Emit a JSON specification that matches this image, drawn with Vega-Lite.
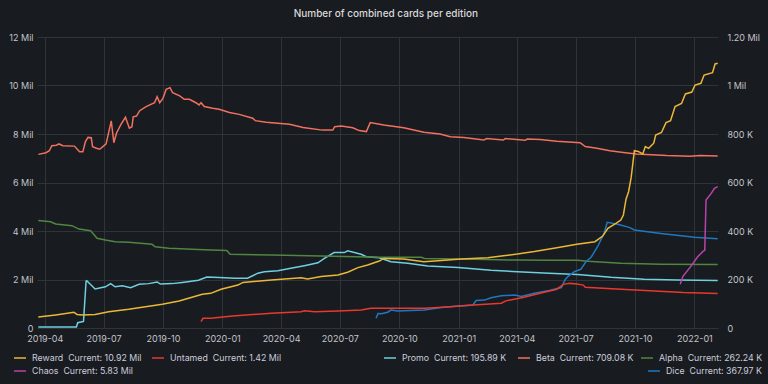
{
  "$schema": "https://vega.github.io/schema/vega-lite/v6.json",
  "width": 681,
  "height": 291,
  "autosize": "none",
  "padding": {"left": 37, "top": 37, "right": 50, "bottom": 56},
  "background": "#181b1f",
  "config": {
    "font": "Inter",
    "view": {"stroke": null},
    "line": {"strokeWidth": 1.5},
    "axis": {"labelFont": "Inter", "labelFontSize": 9, "labelColor": "#c4c4cc", "gridColor": "#303338", "gridWidth": 1, "domain": false, "ticks": false, "title": null},
    "legend": {"labelFont": "Inter", "labelFontSize": 8.8, "labelColor": "#ccccdc", "title": null, "symbolType": "stroke", "symbolStrokeWidth": 4, "symbolSize": 144, "labelOffset": 5, "orient": "none"}
  },
  "title": {"text": "Number of combined cards per edition", "anchor": "middle", "frame": "bounds", "fontSize": 10, "fontWeight": 500, "color": "#d8d9da", "font": "Inter", "offset": 14},
  "datasets": {
    "left": [
      {"d": "2019-03-22", "s": "Reward", "v": 450000},
      {"d": "2019-04-18", "s": "Reward", "v": 540000},
      {"d": "2019-05-16", "s": "Reward", "v": 650000},
      {"d": "2019-05-21", "s": "Reward", "v": 560000},
      {"d": "2019-05-29", "s": "Reward", "v": 540000},
      {"d": "2019-06-18", "s": "Reward", "v": 560000},
      {"d": "2019-07-09", "s": "Reward", "v": 670000},
      {"d": "2019-08-09", "s": "Reward", "v": 770000},
      {"d": "2019-09-04", "s": "Reward", "v": 880000},
      {"d": "2019-09-30", "s": "Reward", "v": 980000},
      {"d": "2019-10-26", "s": "Reward", "v": 1110000},
      {"d": "2019-11-15", "s": "Reward", "v": 1270000},
      {"d": "2019-12-01", "s": "Reward", "v": 1390000},
      {"d": "2019-12-14", "s": "Reward", "v": 1430000},
      {"d": "2019-12-30", "s": "Reward", "v": 1600000},
      {"d": "2020-01-25", "s": "Reward", "v": 1770000},
      {"d": "2020-02-02", "s": "Reward", "v": 1880000},
      {"d": "2020-03-17", "s": "Reward", "v": 1980000},
      {"d": "2020-05-02", "s": "Reward", "v": 2070000},
      {"d": "2020-05-12", "s": "Reward", "v": 2020000},
      {"d": "2020-06-02", "s": "Reward", "v": 2120000},
      {"d": "2020-06-28", "s": "Reward", "v": 2190000},
      {"d": "2020-07-13", "s": "Reward", "v": 2300000},
      {"d": "2020-07-29", "s": "Reward", "v": 2490000},
      {"d": "2020-08-13", "s": "Reward", "v": 2600000},
      {"d": "2020-08-31", "s": "Reward", "v": 2760000},
      {"d": "2020-09-07", "s": "Reward", "v": 2870000},
      {"d": "2020-10-08", "s": "Reward", "v": 2850000},
      {"d": "2020-11-08", "s": "Reward", "v": 2730000},
      {"d": "2020-12-05", "s": "Reward", "v": 2780000},
      {"d": "2021-01-05", "s": "Reward", "v": 2850000},
      {"d": "2021-02-15", "s": "Reward", "v": 2900000},
      {"d": "2021-03-08", "s": "Reward", "v": 2970000},
      {"d": "2021-04-02", "s": "Reward", "v": 3050000},
      {"d": "2021-04-28", "s": "Reward", "v": 3150000},
      {"d": "2021-06-02", "s": "Reward", "v": 3310000},
      {"d": "2021-07-03", "s": "Reward", "v": 3450000},
      {"d": "2021-07-31", "s": "Reward", "v": 3560000},
      {"d": "2021-08-12", "s": "Reward", "v": 3790000},
      {"d": "2021-08-20", "s": "Reward", "v": 4110000},
      {"d": "2021-09-02", "s": "Reward", "v": 4320000},
      {"d": "2021-09-09", "s": "Reward", "v": 4450000},
      {"d": "2021-09-13", "s": "Reward", "v": 4660000},
      {"d": "2021-09-17", "s": "Reward", "v": 5300000},
      {"d": "2021-09-21", "s": "Reward", "v": 5620000},
      {"d": "2021-09-25", "s": "Reward", "v": 6200000},
      {"d": "2021-09-30", "s": "Reward", "v": 7310000},
      {"d": "2021-10-06", "s": "Reward", "v": 7280000},
      {"d": "2021-10-13", "s": "Reward", "v": 7180000},
      {"d": "2021-10-17", "s": "Reward", "v": 7480000},
      {"d": "2021-10-22", "s": "Reward", "v": 7410000},
      {"d": "2021-10-30", "s": "Reward", "v": 7620000},
      {"d": "2021-11-02", "s": "Reward", "v": 7960000},
      {"d": "2021-11-11", "s": "Reward", "v": 8060000},
      {"d": "2021-11-18", "s": "Reward", "v": 8470000},
      {"d": "2021-11-25", "s": "Reward", "v": 8550000},
      {"d": "2021-12-02", "s": "Reward", "v": 9130000},
      {"d": "2021-12-12", "s": "Reward", "v": 9260000},
      {"d": "2021-12-18", "s": "Reward", "v": 9650000},
      {"d": "2021-12-28", "s": "Reward", "v": 9730000},
      {"d": "2022-01-02", "s": "Reward", "v": 10020000},
      {"d": "2022-01-11", "s": "Reward", "v": 10090000},
      {"d": "2022-01-16", "s": "Reward", "v": 10430000},
      {"d": "2022-01-29", "s": "Reward", "v": 10530000},
      {"d": "2022-02-02", "s": "Reward", "v": 10890000},
      {"d": "2022-02-06", "s": "Reward", "v": 10920000},
      {"d": "2019-11-29", "s": "Untamed", "v": 260000},
      {"d": "2019-12-02", "s": "Untamed", "v": 400000},
      {"d": "2019-12-14", "s": "Untamed", "v": 400000},
      {"d": "2020-01-17", "s": "Untamed", "v": 490000},
      {"d": "2020-03-17", "s": "Untamed", "v": 610000},
      {"d": "2020-05-02", "s": "Untamed", "v": 670000},
      {"d": "2020-05-07", "s": "Untamed", "v": 710000},
      {"d": "2020-05-23", "s": "Untamed", "v": 670000},
      {"d": "2020-06-28", "s": "Untamed", "v": 700000},
      {"d": "2020-08-03", "s": "Untamed", "v": 740000},
      {"d": "2020-08-18", "s": "Untamed", "v": 810000},
      {"d": "2020-09-07", "s": "Untamed", "v": 810000},
      {"d": "2020-11-09", "s": "Untamed", "v": 810000},
      {"d": "2020-12-19", "s": "Untamed", "v": 880000},
      {"d": "2021-01-24", "s": "Untamed", "v": 950000},
      {"d": "2021-03-08", "s": "Untamed", "v": 1020000},
      {"d": "2021-03-15", "s": "Untamed", "v": 1120000},
      {"d": "2021-04-12", "s": "Untamed", "v": 1270000},
      {"d": "2021-05-07", "s": "Untamed", "v": 1430000},
      {"d": "2021-06-02", "s": "Untamed", "v": 1600000},
      {"d": "2021-06-12", "s": "Untamed", "v": 1800000},
      {"d": "2021-06-22", "s": "Untamed", "v": 1840000},
      {"d": "2021-07-03", "s": "Untamed", "v": 1810000},
      {"d": "2021-07-13", "s": "Untamed", "v": 1770000},
      {"d": "2021-07-16", "s": "Untamed", "v": 1680000},
      {"d": "2021-09-02", "s": "Untamed", "v": 1610000},
      {"d": "2021-10-24", "s": "Untamed", "v": 1540000},
      {"d": "2021-12-15", "s": "Untamed", "v": 1460000},
      {"d": "2022-02-06", "s": "Untamed", "v": 1420000},
      {"d": "2021-12-10", "s": "Chaos", "v": 1800000},
      {"d": "2021-12-14", "s": "Chaos", "v": 2120000},
      {"d": "2021-12-27", "s": "Chaos", "v": 2560000},
      {"d": "2022-01-06", "s": "Chaos", "v": 2940000},
      {"d": "2022-01-15", "s": "Chaos", "v": 3180000},
      {"d": "2022-01-17", "s": "Chaos", "v": 3200000},
      {"d": "2022-01-19", "s": "Chaos", "v": 5280000},
      {"d": "2022-01-27", "s": "Chaos", "v": 5550000},
      {"d": "2022-02-01", "s": "Chaos", "v": 5760000},
      {"d": "2022-02-06", "s": "Chaos", "v": 5830000}
    ],
    "right": [
      {"d": "2019-03-22", "s": "Promo", "v": 4000},
      {"d": "2019-05-20", "s": "Promo", "v": 4000},
      {"d": "2019-05-22", "s": "Promo", "v": 22000},
      {"d": "2019-05-29", "s": "Promo", "v": 26000},
      {"d": "2019-05-31", "s": "Promo", "v": 27000},
      {"d": "2019-06-04", "s": "Promo", "v": 193000},
      {"d": "2019-06-05", "s": "Promo", "v": 195000},
      {"d": "2019-06-18", "s": "Promo", "v": 161000},
      {"d": "2019-07-04", "s": "Promo", "v": 170000},
      {"d": "2019-07-12", "s": "Promo", "v": 183000},
      {"d": "2019-07-19", "s": "Promo", "v": 170000},
      {"d": "2019-07-30", "s": "Promo", "v": 174000},
      {"d": "2019-08-12", "s": "Promo", "v": 166000},
      {"d": "2019-08-25", "s": "Promo", "v": 180000},
      {"d": "2019-09-09", "s": "Promo", "v": 183000},
      {"d": "2019-09-22", "s": "Promo", "v": 190000},
      {"d": "2019-09-27", "s": "Promo", "v": 181000},
      {"d": "2019-10-15", "s": "Promo", "v": 183000},
      {"d": "2019-10-31", "s": "Promo", "v": 188000},
      {"d": "2019-11-25", "s": "Promo", "v": 197000},
      {"d": "2019-12-08", "s": "Promo", "v": 210000},
      {"d": "2019-12-27", "s": "Promo", "v": 208000},
      {"d": "2020-01-20", "s": "Promo", "v": 205000},
      {"d": "2020-02-09", "s": "Promo", "v": 205000},
      {"d": "2020-02-25", "s": "Promo", "v": 226000},
      {"d": "2020-03-06", "s": "Promo", "v": 232000},
      {"d": "2020-03-27", "s": "Promo", "v": 236000},
      {"d": "2020-04-16", "s": "Promo", "v": 246000},
      {"d": "2020-05-07", "s": "Promo", "v": 257000},
      {"d": "2020-05-28", "s": "Promo", "v": 269000},
      {"d": "2020-06-07", "s": "Promo", "v": 287000},
      {"d": "2020-06-22", "s": "Promo", "v": 311000},
      {"d": "2020-07-08", "s": "Promo", "v": 311000},
      {"d": "2020-07-13", "s": "Promo", "v": 318000},
      {"d": "2020-08-03", "s": "Promo", "v": 304000},
      {"d": "2020-08-11", "s": "Promo", "v": 294000},
      {"d": "2020-08-31", "s": "Promo", "v": 290000},
      {"d": "2020-09-18", "s": "Promo", "v": 273000},
      {"d": "2020-10-14", "s": "Promo", "v": 267000},
      {"d": "2020-11-14", "s": "Promo", "v": 256000},
      {"d": "2020-12-31", "s": "Promo", "v": 249000},
      {"d": "2021-02-20", "s": "Promo", "v": 238000},
      {"d": "2021-04-02", "s": "Promo", "v": 232000},
      {"d": "2021-05-21", "s": "Promo", "v": 226000},
      {"d": "2021-07-04", "s": "Promo", "v": 221000},
      {"d": "2021-08-25", "s": "Promo", "v": 209000},
      {"d": "2021-10-15", "s": "Promo", "v": 201000},
      {"d": "2021-12-06", "s": "Promo", "v": 198000},
      {"d": "2022-02-06", "s": "Promo", "v": 195890},
      {"d": "2019-03-22", "s": "Beta", "v": 716000},
      {"d": "2019-04-03", "s": "Beta", "v": 723000},
      {"d": "2019-04-08", "s": "Beta", "v": 731000},
      {"d": "2019-04-12", "s": "Beta", "v": 752000},
      {"d": "2019-04-19", "s": "Beta", "v": 754000},
      {"d": "2019-04-23", "s": "Beta", "v": 759000},
      {"d": "2019-04-29", "s": "Beta", "v": 752000},
      {"d": "2019-05-17", "s": "Beta", "v": 750000},
      {"d": "2019-05-21", "s": "Beta", "v": 738000},
      {"d": "2019-05-25", "s": "Beta", "v": 727000},
      {"d": "2019-05-30", "s": "Beta", "v": 727000},
      {"d": "2019-06-03", "s": "Beta", "v": 769000},
      {"d": "2019-06-07", "s": "Beta", "v": 786000},
      {"d": "2019-06-12", "s": "Beta", "v": 785000},
      {"d": "2019-06-14", "s": "Beta", "v": 748000},
      {"d": "2019-06-20", "s": "Beta", "v": 741000},
      {"d": "2019-06-25", "s": "Beta", "v": 737000},
      {"d": "2019-06-30", "s": "Beta", "v": 748000},
      {"d": "2019-07-05", "s": "Beta", "v": 759000},
      {"d": "2019-07-13", "s": "Beta", "v": 854000},
      {"d": "2019-07-17", "s": "Beta", "v": 764000},
      {"d": "2019-07-21", "s": "Beta", "v": 803000},
      {"d": "2019-07-28", "s": "Beta", "v": 840000},
      {"d": "2019-08-04", "s": "Beta", "v": 869000},
      {"d": "2019-08-10", "s": "Beta", "v": 824000},
      {"d": "2019-08-14", "s": "Beta", "v": 830000},
      {"d": "2019-08-16", "s": "Beta", "v": 871000},
      {"d": "2019-08-21", "s": "Beta", "v": 874000},
      {"d": "2019-08-26", "s": "Beta", "v": 896000},
      {"d": "2019-09-05", "s": "Beta", "v": 913000},
      {"d": "2019-09-18", "s": "Beta", "v": 929000},
      {"d": "2019-09-22", "s": "Beta", "v": 954000},
      {"d": "2019-09-26", "s": "Beta", "v": 929000},
      {"d": "2019-10-01", "s": "Beta", "v": 947000},
      {"d": "2019-10-06", "s": "Beta", "v": 984000},
      {"d": "2019-10-12", "s": "Beta", "v": 991000},
      {"d": "2019-10-16", "s": "Beta", "v": 970000},
      {"d": "2019-10-27", "s": "Beta", "v": 957000},
      {"d": "2019-11-03", "s": "Beta", "v": 943000},
      {"d": "2019-11-11", "s": "Beta", "v": 943000},
      {"d": "2019-11-21", "s": "Beta", "v": 929000},
      {"d": "2019-11-26", "s": "Beta", "v": 920000},
      {"d": "2019-11-29", "s": "Beta", "v": 929000},
      {"d": "2019-12-04", "s": "Beta", "v": 913000},
      {"d": "2019-12-17", "s": "Beta", "v": 906000},
      {"d": "2019-12-27", "s": "Beta", "v": 902000},
      {"d": "2020-01-12", "s": "Beta", "v": 889000},
      {"d": "2020-01-27", "s": "Beta", "v": 881000},
      {"d": "2020-02-17", "s": "Beta", "v": 865000},
      {"d": "2020-02-21", "s": "Beta", "v": 855000},
      {"d": "2020-03-09", "s": "Beta", "v": 848000},
      {"d": "2020-04-14", "s": "Beta", "v": 840000},
      {"d": "2020-05-05", "s": "Beta", "v": 827000},
      {"d": "2020-06-04", "s": "Beta", "v": 816000},
      {"d": "2020-06-20", "s": "Beta", "v": 816000},
      {"d": "2020-06-23", "s": "Beta", "v": 830000},
      {"d": "2020-07-03", "s": "Beta", "v": 833000},
      {"d": "2020-07-21", "s": "Beta", "v": 826000},
      {"d": "2020-07-31", "s": "Beta", "v": 814000},
      {"d": "2020-08-11", "s": "Beta", "v": 810000},
      {"d": "2020-08-17", "s": "Beta", "v": 847000},
      {"d": "2020-09-07", "s": "Beta", "v": 837000},
      {"d": "2020-10-08", "s": "Beta", "v": 826000},
      {"d": "2020-11-08", "s": "Beta", "v": 807000},
      {"d": "2020-12-03", "s": "Beta", "v": 800000},
      {"d": "2020-12-19", "s": "Beta", "v": 789000},
      {"d": "2021-01-09", "s": "Beta", "v": 786000},
      {"d": "2021-02-09", "s": "Beta", "v": 775000},
      {"d": "2021-02-13", "s": "Beta", "v": 781000},
      {"d": "2021-03-11", "s": "Beta", "v": 775000},
      {"d": "2021-03-14", "s": "Beta", "v": 781000},
      {"d": "2021-04-14", "s": "Beta", "v": 774000},
      {"d": "2021-04-17", "s": "Beta", "v": 779000},
      {"d": "2021-05-07", "s": "Beta", "v": 777000},
      {"d": "2021-06-02", "s": "Beta", "v": 770000},
      {"d": "2021-07-08", "s": "Beta", "v": 764000},
      {"d": "2021-07-16", "s": "Beta", "v": 748000},
      {"d": "2021-08-03", "s": "Beta", "v": 741000},
      {"d": "2021-08-23", "s": "Beta", "v": 731000},
      {"d": "2021-09-13", "s": "Beta", "v": 724000},
      {"d": "2021-10-03", "s": "Beta", "v": 718000},
      {"d": "2021-11-19", "s": "Beta", "v": 711000},
      {"d": "2021-12-25", "s": "Beta", "v": 708000},
      {"d": "2022-01-10", "s": "Beta", "v": 711000},
      {"d": "2022-02-06", "s": "Beta", "v": 709080},
      {"d": "2019-03-22", "s": "Alpha", "v": 443000},
      {"d": "2019-04-10", "s": "Alpha", "v": 438000},
      {"d": "2019-04-18", "s": "Alpha", "v": 429000},
      {"d": "2019-05-13", "s": "Alpha", "v": 422000},
      {"d": "2019-05-24", "s": "Alpha", "v": 408000},
      {"d": "2019-06-11", "s": "Alpha", "v": 401000},
      {"d": "2019-06-21", "s": "Alpha", "v": 370000},
      {"d": "2019-07-04", "s": "Alpha", "v": 363000},
      {"d": "2019-07-19", "s": "Alpha", "v": 356000},
      {"d": "2019-08-09", "s": "Alpha", "v": 354000},
      {"d": "2019-09-14", "s": "Alpha", "v": 345000},
      {"d": "2019-09-19", "s": "Alpha", "v": 335000},
      {"d": "2019-10-10", "s": "Alpha", "v": 329000},
      {"d": "2019-11-15", "s": "Alpha", "v": 325000},
      {"d": "2019-12-14", "s": "Alpha", "v": 322000},
      {"d": "2020-01-08", "s": "Alpha", "v": 320000},
      {"d": "2020-01-13", "s": "Alpha", "v": 304000},
      {"d": "2020-03-17", "s": "Alpha", "v": 301000},
      {"d": "2020-06-02", "s": "Alpha", "v": 297000},
      {"d": "2020-08-31", "s": "Alpha", "v": 292000},
      {"d": "2020-11-04", "s": "Alpha", "v": 292000},
      {"d": "2020-11-09", "s": "Alpha", "v": 287000},
      {"d": "2021-01-25", "s": "Alpha", "v": 283000},
      {"d": "2021-04-02", "s": "Alpha", "v": 280000},
      {"d": "2021-05-21", "s": "Alpha", "v": 279000},
      {"d": "2021-07-04", "s": "Alpha", "v": 279000},
      {"d": "2021-07-20", "s": "Alpha", "v": 275000},
      {"d": "2021-09-09", "s": "Alpha", "v": 267000},
      {"d": "2021-11-10", "s": "Alpha", "v": 263000},
      {"d": "2022-02-06", "s": "Alpha", "v": 262240},
      {"d": "2020-08-26", "s": "Dice", "v": 40000},
      {"d": "2020-08-29", "s": "Dice", "v": 60000},
      {"d": "2020-09-03", "s": "Dice", "v": 59000},
      {"d": "2020-09-13", "s": "Dice", "v": 65000},
      {"d": "2020-09-18", "s": "Dice", "v": 74000},
      {"d": "2020-09-28", "s": "Dice", "v": 70000},
      {"d": "2020-11-09", "s": "Dice", "v": 74000},
      {"d": "2020-12-05", "s": "Dice", "v": 85000},
      {"d": "2020-12-31", "s": "Dice", "v": 91000},
      {"d": "2021-01-23", "s": "Dice", "v": 95000},
      {"d": "2021-01-28", "s": "Dice", "v": 113000},
      {"d": "2021-02-10", "s": "Dice", "v": 115000},
      {"d": "2021-02-20", "s": "Dice", "v": 125000},
      {"d": "2021-03-08", "s": "Dice", "v": 133000},
      {"d": "2021-03-29", "s": "Dice", "v": 136000},
      {"d": "2021-04-08", "s": "Dice", "v": 130000},
      {"d": "2021-04-28", "s": "Dice", "v": 143000},
      {"d": "2021-05-21", "s": "Dice", "v": 155000},
      {"d": "2021-06-09", "s": "Dice", "v": 167000},
      {"d": "2021-06-15", "s": "Dice", "v": 200000},
      {"d": "2021-06-19", "s": "Dice", "v": 212000},
      {"d": "2021-06-29", "s": "Dice", "v": 232000},
      {"d": "2021-07-09", "s": "Dice", "v": 242000},
      {"d": "2021-07-17", "s": "Dice", "v": 273000},
      {"d": "2021-07-25", "s": "Dice", "v": 292000},
      {"d": "2021-08-04", "s": "Dice", "v": 335000},
      {"d": "2021-08-14", "s": "Dice", "v": 390000},
      {"d": "2021-08-19", "s": "Dice", "v": 436000},
      {"d": "2021-09-04", "s": "Dice", "v": 428000},
      {"d": "2021-09-22", "s": "Dice", "v": 415000},
      {"d": "2021-09-30", "s": "Dice", "v": 404000},
      {"d": "2021-11-10", "s": "Dice", "v": 390000},
      {"d": "2022-01-01", "s": "Dice", "v": 374000},
      {"d": "2022-02-06", "s": "Dice", "v": 367970}
    ]
  },
  "encoding": {
    "x": {
      "field": "d", "type": "temporal",
      "scale": {"domain": [{"year": 2019, "month": 3, "date": 20}, {"year": 2022, "month": 2, "date": 6, "hours": 12}]},
      "axis": {"format": "%Y-%m", "tickCount": {"interval": "month", "step": 3}, "grid": true, "labelPadding": 6, "labelOverlap": false, "labelFlush": false}
    }
  },
  "layer": [
    {
      "data": {"name": "right"},
      "transform": [{"filter": "datum.s == 'Promo'"}],
      "mark": "line",
      "encoding": {
        "y": {"field": "v", "type": "quantitative", "scale": {"domain": [0, 1200000], "nice": false},
          "axis": {"orient": "right", "values": [0, 200000, 400000, 600000, 800000, 1000000, 1200000], "grid": false, "labelPadding": 9,
            "labelExpr": "datum.value == 0 ? '0' : datum.value < 1000000 ? format(datum.value / 1000, 'd') + ' K' : datum.value == 1000000 ? '1 Mil' : '1.20 Mil'"}},
        "color": {"field": "s", "type": "nominal", "scale": {"domain": ["Promo"], "range": ["#6ED0E0"]},
          "legend": {"legendX": 346, "legendY": 314, "labelExpr": "'Promo\u00a0 Current: 195.89 K'"}}
      }
    },
    {
      "data": {"name": "right"},
      "transform": [{"filter": "datum.s == 'Beta'"}],
      "mark": "line",
      "encoding": {
        "y": {"field": "v", "type": "quantitative", "scale": {"domain": [0, 1200000], "nice": false}, "axis": null},
        "color": {"field": "s", "type": "nominal", "scale": {"domain": ["Beta"], "range": ["#F2705F"]},
          "legend": {"legendX": 480, "legendY": 314, "labelExpr": "'Beta\u00a0 Current: 709.08 K'"}}
      }
    },
    {
      "data": {"name": "right"},
      "transform": [{"filter": "datum.s == 'Alpha'"}],
      "mark": "line",
      "encoding": {
        "y": {"field": "v", "type": "quantitative", "scale": {"domain": [0, 1200000], "nice": false}, "axis": null},
        "color": {"field": "s", "type": "nominal", "scale": {"domain": ["Alpha"], "range": ["#508642"]},
          "legend": {"legendX": 603, "legendY": 314, "labelExpr": "'Alpha\u00a0 Current: 262.24 K'"}}
      }
    },
    {
      "data": {"name": "right"},
      "transform": [{"filter": "datum.s == 'Dice'"}],
      "mark": "line",
      "encoding": {
        "y": {"field": "v", "type": "quantitative", "scale": {"domain": [0, 1200000], "nice": false}, "axis": null},
        "color": {"field": "s", "type": "nominal", "scale": {"domain": ["Dice"], "range": ["#1F78C1"]},
          "legend": {"legendX": 610, "legendY": 327, "labelExpr": "'Dice\u00a0 Current: 367.97 K'"}}
      }
    },
    {
      "data": {"name": "left"},
      "transform": [{"filter": "datum.s == 'Untamed'"}],
      "mark": "line",
      "encoding": {
        "y": {"field": "v", "type": "quantitative", "scale": {"domain": [0, 12000000], "nice": false}, "axis": null},
        "color": {"field": "s", "type": "nominal", "scale": {"domain": ["Untamed"], "range": ["#E8392F"]},
          "legend": {"legendX": 114, "legendY": 314, "labelExpr": "'Untamed\u00a0 Current: 1.42 Mil'"}}
      }
    },
    {
      "data": {"name": "left"},
      "transform": [{"filter": "datum.s == 'Chaos'"}],
      "mark": "line",
      "encoding": {
        "y": {"field": "v", "type": "quantitative", "scale": {"domain": [0, 12000000], "nice": false}, "axis": null},
        "color": {"field": "s", "type": "nominal", "scale": {"domain": ["Chaos"], "range": ["#BA43A9"]},
          "legend": {"legendX": -24, "legendY": 327, "labelExpr": "'Chaos\u00a0 Current: 5.83 Mil'"}}
      }
    },
    {
      "data": {"name": "left"},
      "transform": [{"filter": "datum.s == 'Reward'"}],
      "mark": "line",
      "encoding": {
        "y": {"field": "v", "type": "quantitative", "scale": {"domain": [0, 12000000], "nice": false},
          "axis": {"orient": "left", "values": [0, 2000000, 4000000, 6000000, 8000000, 10000000, 12000000], "grid": true, "labelPadding": 4,
            "labelExpr": "datum.value == 0 ? '0' : format(datum.value / 1000000, 'd') + ' Mil'"}},
        "color": {"field": "s", "type": "nominal", "scale": {"domain": ["Reward"], "range": ["#EAB839"]},
          "legend": {"legendX": -24, "legendY": 314, "labelExpr": "'Reward\u00a0 Current: 10.92 Mil'"}}
      }
    }
  ],
  "resolve": {"scale": {"y": "independent", "color": "independent"}}
}
